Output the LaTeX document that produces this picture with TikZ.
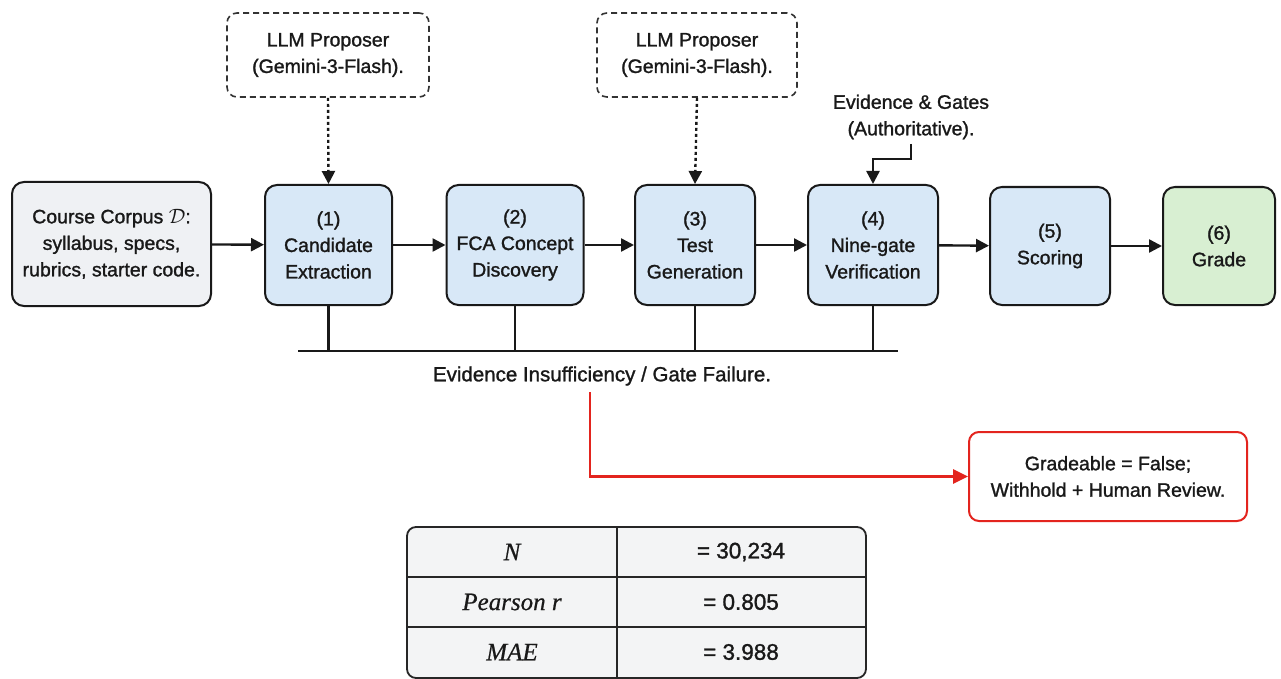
\documentclass[tikz,border=0pt]{standalone}
\usepackage{fontspec}
\setmainfont{Liberation Sans}[FakeBold=1.3]
\newfontfamily\serifit{Liberation Serif}[FakeBold=0.6]
\usetikzlibrary{arrows.meta,positioning,calc}
\definecolor{bluefill}{HTML}{D8E8F7}
\definecolor{greenfill}{HTML}{D8EFD2}
\definecolor{grayfill}{HTML}{EFF1F4}
\definecolor{tablefill}{HTML}{F3F4F5}
\definecolor{redline}{HTML}{E3241E}
\definecolor{dashgray}{HTML}{333333}
\tikzset{
  every node/.style={font=\fontsize{19.5}{26.5}\selectfont, align=center, text=black!90},
  stagebox/.style={draw=black!90, line width=2pt, rounded corners=12pt, fill=bluefill, inner sep=0pt},
  proposerbox/.style={draw=dashgray, line width=1.6pt, dash pattern=on 6pt off 4pt, rounded corners=10pt, fill=white, inner sep=0pt},
  flow/.style={draw=black!90, line width=2.4pt, -{Triangle[length=13pt,width=13pt]}},
  dotflow/.style={draw=black!90, line width=2.4pt, dash pattern=on 3pt off 3pt, -{Triangle[length=13pt,width=13pt]}},
  busline/.style={draw=black!90, line width=2.2pt},
  redflow/.style={draw=redline, line width=2.6pt, -{Triangle[length=15pt,width=14pt]}},
  valcell/.style={font=\fontsize{22.5}{26}\selectfont, inner sep=0pt},
  keycell/.style={font=\fontsize{25}{28}\selectfont\serifit\itshape, inner sep=0pt},
}
\begin{document}
\begin{tikzpicture}[x=1pt,y=-1pt]
\useasboundingbox (0,0) rectangle (1281,679);
\fill[white] (0,0) rectangle (1281,679);

% proposers
\node[proposerbox, minimum width=202pt, minimum height=84pt] (propA) at (328,55) {LLM Proposer\\(Gemini-3-Flash).};
\node[proposerbox, minimum width=200pt, minimum height=84pt] (propB) at (697,55) {LLM Proposer\\(Gemini-3-Flash).};

% stages
\node[stagebox, fill=grayfill, minimum width=199pt, minimum height=124pt] (corpus) at (111.5,244) {Course Corpus $\mathcal{D}$:\\syllabus, specs,\\rubrics, starter code.};
\node[stagebox, minimum width=127pt, minimum height=120pt] (s1) at (328.5,245) {(1)\\Candidate\\Extraction};
\node[stagebox, minimum width=137pt, minimum height=120pt] (s2) at (515,245) {(2)\\FCA Concept\\Discovery};
\node[stagebox, minimum width=120pt, minimum height=120pt] (s3) at (695,245) {(3)\\Test\\Generation};
\node[stagebox, minimum width=130pt, minimum height=120pt] (s4) at (873,245) {(4)\\Nine-gate\\Verification};
\node[stagebox, minimum width=120pt, minimum height=118pt] (s5) at (1050,246) {(5)\\Scoring};
\node[stagebox, fill=greenfill, minimum width=112pt, minimum height=118pt] (s6) at (1219,246) {(6)\\Grade};

\draw[flow] (corpus) -- (s1);
\draw[flow] (s1) -- (s2);
\draw[flow] (s2) -- (s3);
\draw[flow] (s3) -- (s4);
\draw[flow] (s4) -- (s5);
\draw[flow] (s5) -- (s6);

\draw[dotflow] (propA.south) -- (s1.north);
\draw[dotflow] (propB.south) -- (s3.north);

% evidence
\node (ev) at (911,117) {Evidence \& Gates\\(Authoritative).};
\coordinate (evs) at (911,144);
\draw[flow] (evs) -- ++(0,15) -| (s4.north);

% bus
\coordinate (busL) at (298,351);
\coordinate (busR) at (898,351);
\draw[busline] (busL) -- (busR);
\foreach \s in {s1,s2,s3,s4} \draw[busline] (\s.south) -- (\s.south |- busL);
\node[font=\fontsize{20.5}{26}\selectfont] (fail) at (602,376) {Evidence Insufficiency / Gate Failure.};

% red path
\node[draw=redline, line width=2pt, rounded corners=10pt, fill=white, minimum width=278pt, minimum height=89pt, inner sep=0pt] (gradeable) at (1108,476.5) {Gradeable = False;\\Withhold + Human Review.};
\coordinate (redstart) at (590,392);
\draw[redflow] (redstart) |- (gradeable.west);

% table
\draw[draw=black!85, line width=1.8pt, fill=tablefill, rounded corners=9pt] (407,527) rectangle (866,678);
\draw[black!85, line width=1.3pt] (407,577) -- (866,577);
\draw[black!85, line width=1.3pt] (407,627) -- (866,627);
\draw[black!85, line width=1.3pt] (617,527) -- (617,678);
\node[keycell] (tN) at (512,552) {N};
\node[valcell] (tNv) at (741,552) {= 30,234};
\node[keycell] (tP) at (512,602) {Pearson r};
\node[valcell] (tPv) at (741,602) {= 0.805};
\node[keycell] (tM) at (512,652) {MAE};
\node[valcell] (tMv) at (741,652) {= 3.988};
\end{tikzpicture}
\end{document}
